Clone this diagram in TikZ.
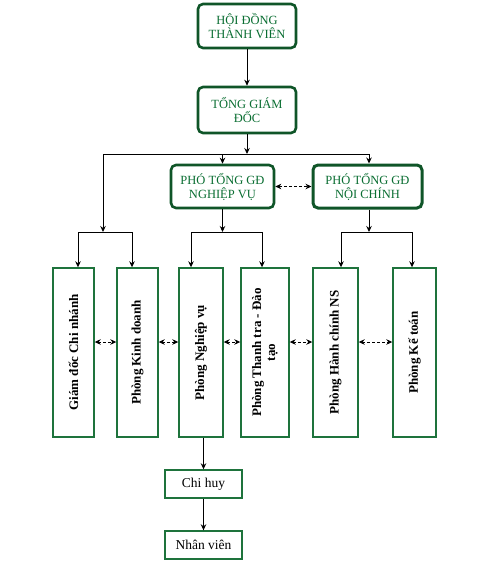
\documentclass[tikz,border=0pt]{standalone}
\usepackage{fontspec}
\setmainfont{Liberation Serif}
\usetikzlibrary{arrows.meta}
\definecolor{boxgreen}{RGB}{30,115,60}
\definecolor{darkgreen}{RGB}{15,85,40}
\definecolor{txtgreen}{RGB}{10,110,50}
\begin{document}
\begin{tikzpicture}[x=1pt,y=-1pt,
	topbox/.style={draw=darkgreen,line width=2.6pt,rounded corners=5pt,fill=white,text=txtgreen,align=center,inner sep=1pt,font=\fontsize{12.5}{14}\selectfont},
	unitbox/.style={draw=boxgreen,line width=1.4pt,rotate=90,align=center,inner sep=1pt,minimum width=169pt,font=\fontsize{13}{14}\selectfont\bfseries},
	staffbox/.style={draw=boxgreen,line width=1.4pt,minimum width=77pt,minimum height=28pt,inner sep=1pt,font=\fontsize{13.5}{15}\selectfont},
	conn/.style={line width=0.9pt,-{Stealth[length=6pt,width=5.5pt]}},
	dconn/.style={line width=0.9pt,dash pattern=on 3pt off 2pt,{Stealth[length=6pt,width=5.5pt]}-{Stealth[length=6pt,width=5.5pt]}}]
	\useasboundingbox (0,0) rectangle (502,567);
	% Board and CEO
	\node[topbox,minimum width=98pt,minimum height=44pt] (hdtv) at (247,26) {HỘI ĐỒNG\\THÀNH VIÊN};
	\node[topbox,minimum width=98pt,minimum height=46pt] (tgd) at (247,110) {TỔNG GIÁM\\ĐỐC};
	% Deputies
	\node[topbox,minimum width=103pt,minimum height=43pt] (pnv) at (222.5,186.5) {PHÓ TỔNG GĐ\\NGHIỆP VỤ};
	\node[topbox,minimum width=109pt,minimum height=43pt,line width=3pt] (pnc) at (367.5,186.5) {PHÓ TỔNG GĐ\\NỘI CHÍNH};
	% Departments
	\node[unitbox,minimum height=41pt] (b1) at (73.5,352.5) {Giám đốc Chi nhánh};
	\node[unitbox,minimum height=41pt] (b2) at (137.5,352.5) {Phòng Kinh doanh};
	\node[unitbox,minimum height=44pt] (b3) at (201,352.5) {Phòng Nghiệp vụ};
	\node[unitbox,minimum height=48pt] (b4) at (265,352.5) {Phòng Thanh tra - Đào\\tạo};
	\node[unitbox,minimum height=45pt] (b5) at (335.5,352.5) {Phòng Hành chính NS};
	\node[unitbox,minimum height=43pt] (b6) at (414.5,352.5) {Phòng Kế toán};
	% Staff
	\node[staffbox] (chihuy) at (203.5,484) {Chi huy};
	\node[staffbox] (nhanvien) at (203.5,545) {Nhân viên};
	% Junctions
	\coordinate (j0) at (247,154);
	\coordinate (jl) at (103,154);
	\coordinate (jr) at (369,154);
	\coordinate (gl) at (103,232);
	\coordinate (l1) at (78,232);
	\coordinate (l2) at (132,232);
	\coordinate (m1) at (191,232);
	\coordinate (m2) at (262,232);
	\coordinate (r1) at (341,232);
	\coordinate (r2) at (412,232);
	\coordinate (lvl) at (0,342);
	% Connectors
	\draw[conn] (hdtv) -- (tgd);
	\draw[conn] (tgd) -- (j0);
	\draw[line width=0.9pt] (jl) -- (jr);
	\draw[conn] (jl) -- (gl);
	\draw[conn] (pnv.north |- j0) -- (pnv);
	\draw[conn] (jr) -- (jr |- pnc.north);
	\draw[dconn] (pnv) -- (pnc);
	\draw[line width=0.9pt] (l1) -- (l2);
	\draw[conn] (l1) -- (l1 |- b1.east);
	\draw[conn] (l2) -- (l2 |- b2.east);
	\draw[conn] (pnv.south) -- (pnv.south |- m1);
	\draw[line width=0.9pt] (m1) -- (m2);
	\draw[conn] (m1) -- (m1 |- b3.east);
	\draw[conn] (m2) -- (m2 |- b4.east);
	\draw[conn] (jr |- pnc.south) -- (jr |- r1);
	\draw[line width=0.9pt] (r1) -- (r2);
	\draw[conn] (r1) -- (r1 |- b5.east);
	\draw[conn] (r2) -- (r2 |- b6.east);
	\draw[dconn] (b1.south |- lvl) -- (b2.north |- lvl);
	\draw[dconn] (b2.south |- lvl) -- (b3.north |- lvl);
	\draw[dconn] (b3.south |- lvl) -- (b4.north |- lvl);
	\draw[dconn] (b4.south |- lvl) -- (b5.north |- lvl);
	\draw[dconn] (b5.south |- lvl) -- (b6.north |- lvl);
	\draw[conn] (b3.west -| chihuy) -- (chihuy);
	\draw[conn] (chihuy) -- (nhanvien);
\end{tikzpicture}
\end{document}
